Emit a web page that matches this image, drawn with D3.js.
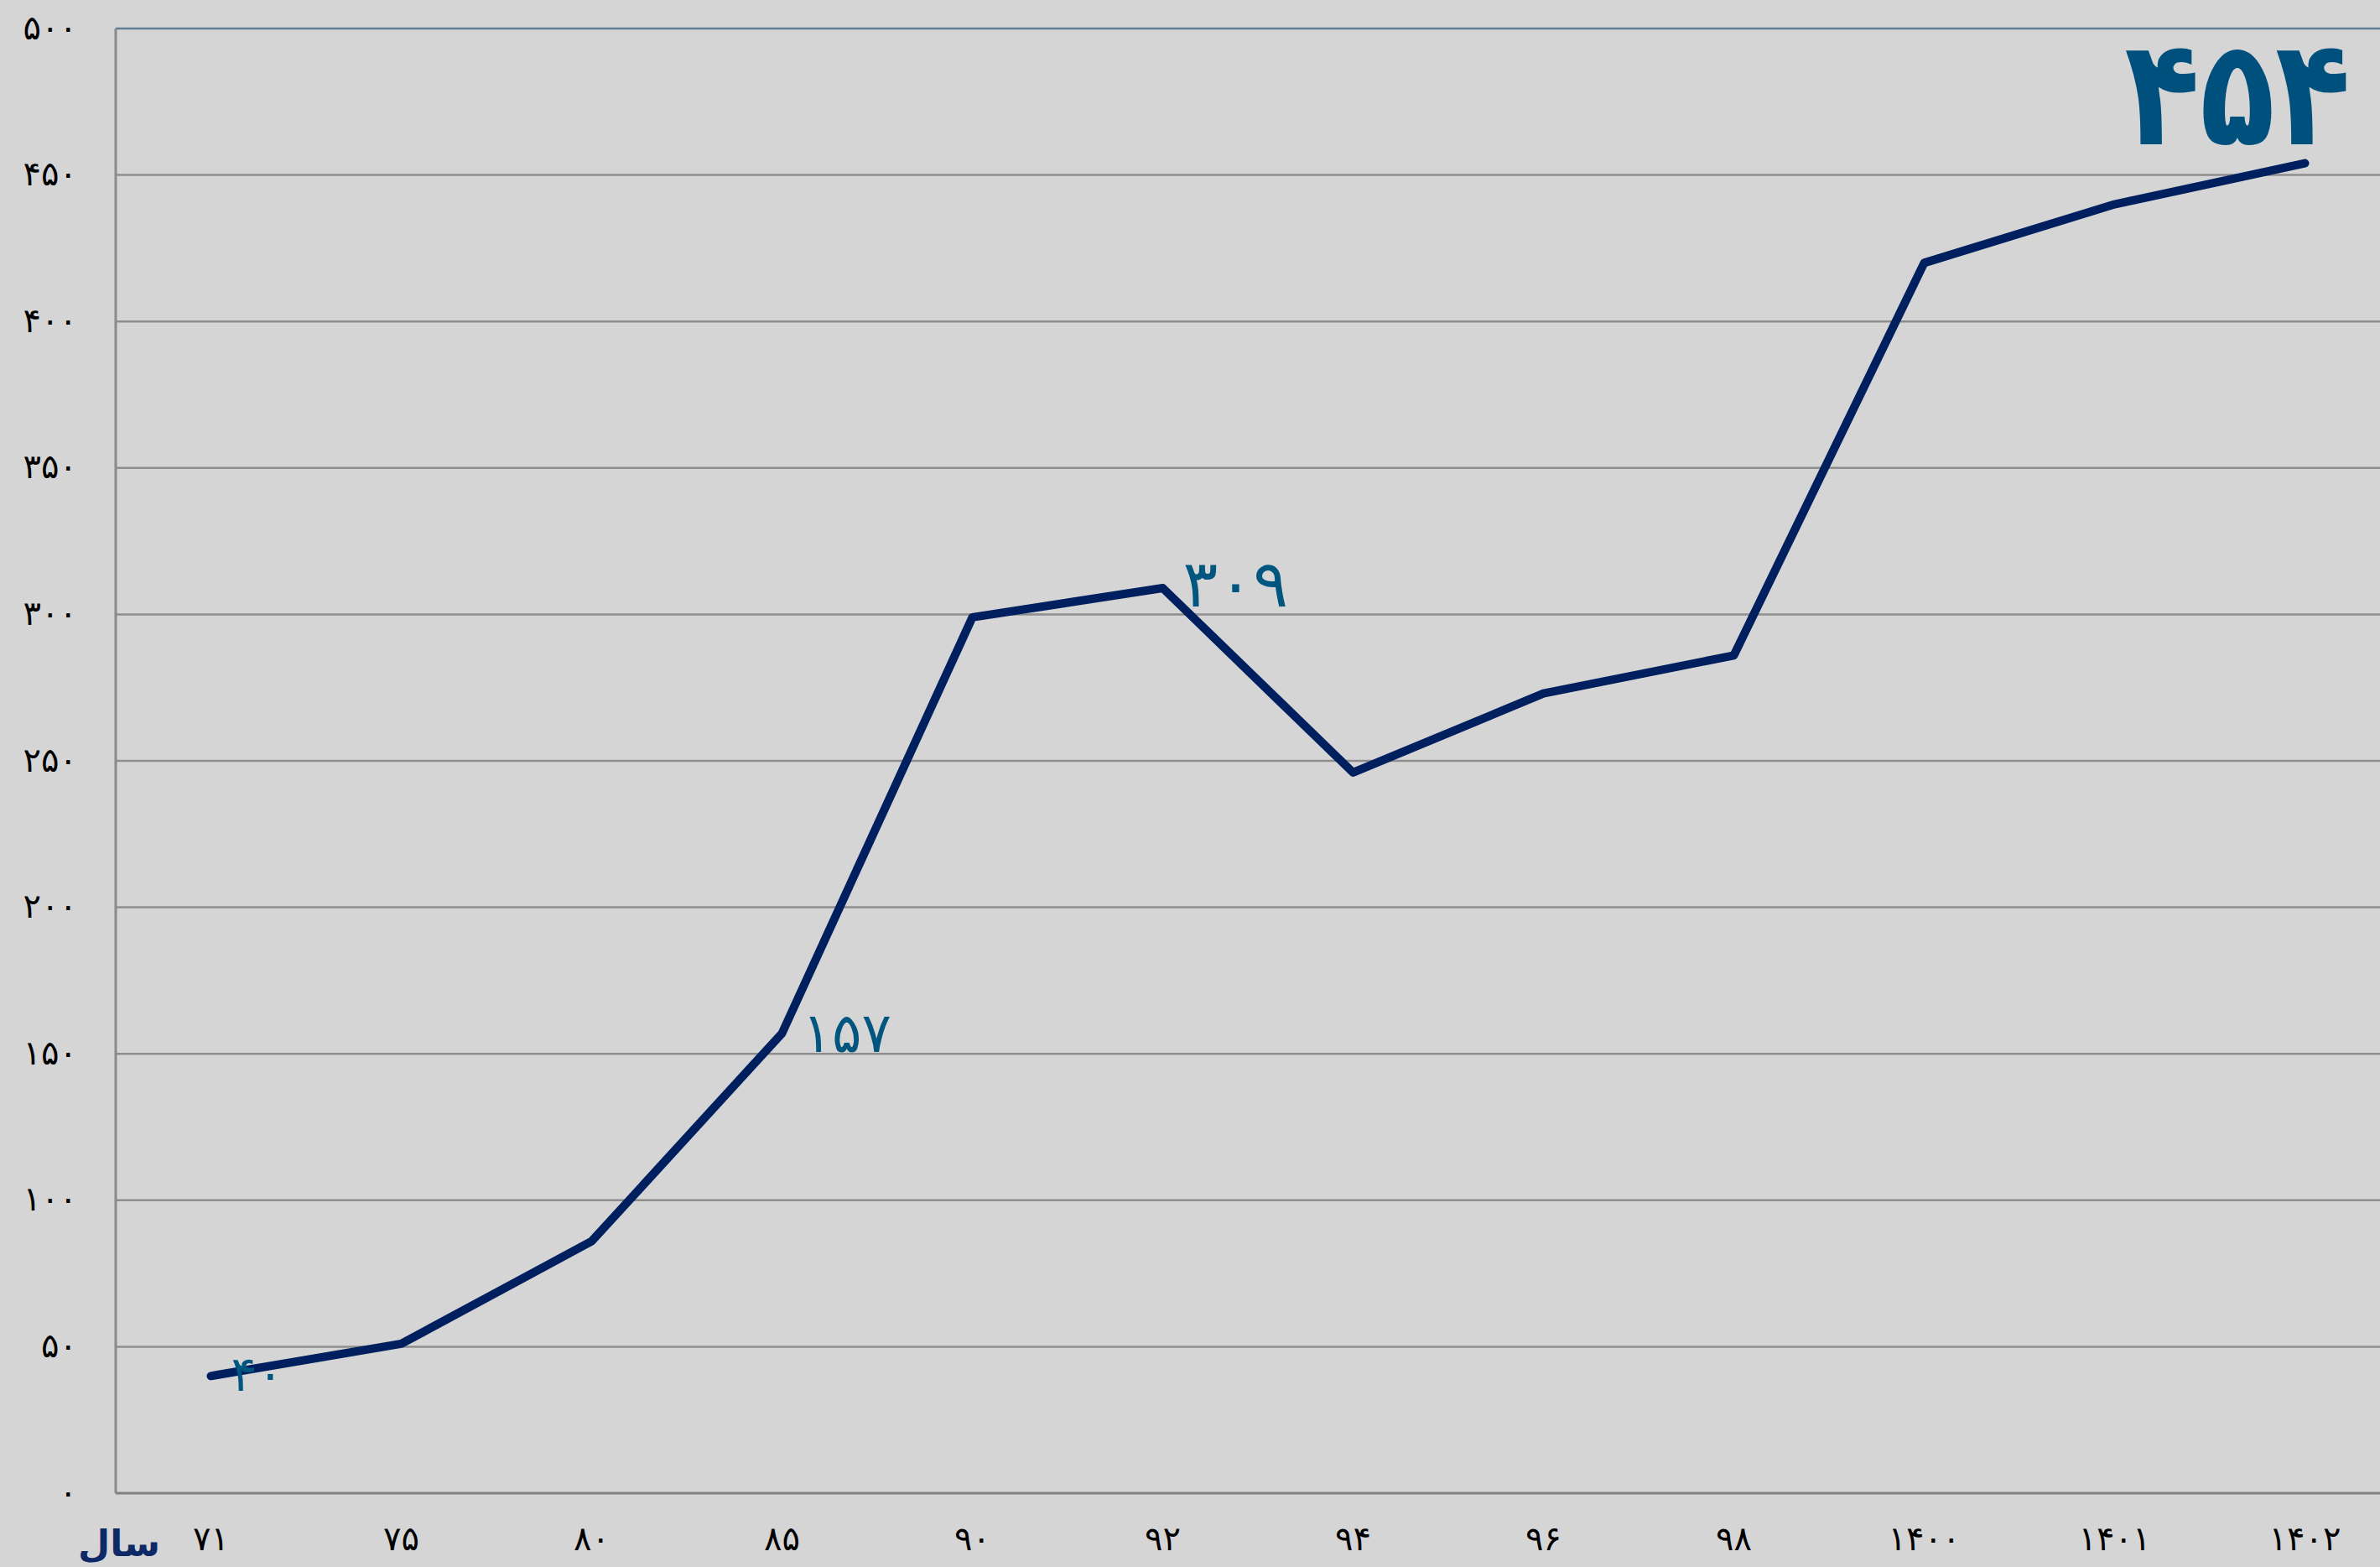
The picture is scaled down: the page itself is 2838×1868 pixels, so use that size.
<!DOCTYPE html>
<html>
<head>
<meta charset="utf-8">
<script src="https://cdn.jsdelivr.net/npm/d3@7"></script>
<style>
  body { margin: 0; background: #d5d5d5; overflow: hidden; }
  svg { display: block; }
</style>
</head>
<body>
<svg id="chart" width="2838" height="1868"></svg>
<script>
const years = ['71', '75', '80', '85', '90', '92', '94', '96', '98', '1400', '1401', '1402']
const values = [40, 51, 86, 157, 299, 309, 246, 273, 286, 420, 440, 454]
const yTicks = [0, 50, 100, 150, 200, 250, 300, 350, 400, 450, 500]

const W = 2838, H = 1868
const padL = 138, padT = 34, baseY = 1780

function fa(s) {
    return String(s).replace(/\d/g, d => '۰۱۲۳۴۵۶۷۸۹'[d])
}

let svg = d3.select('#chart')

svg.append('rect')
    .attr('width', W).attr('height', H)
    .attr('fill', '#d5d5d5')

let xScale = d3.scaleBand()
    .domain(years)
    .range([padL, padL + 227 * years.length])

let yScale = d3.scaleLinear()
    .domain([0, 500])
    .range([baseY, padT])

// grid lines
svg.append('g')
    .selectAll('line')
    .data(yTicks.filter(d => d > 0))
    .join('line')
    .attr('x1', padL).attr('x2', W)
    .attr('y1', d => yScale(d)).attr('y2', d => yScale(d))
    .attr('stroke', d => d == 500 ? '#5f7f97' : '#8e8e8e')
    .attr('stroke-width', 2.5)

// axes lines
svg.append('line')
    .attr('x1', padL).attr('x2', padL)
    .attr('y1', padT).attr('y2', baseY)
    .attr('stroke', '#8a8a8a').attr('stroke-width', 3)
svg.append('line')
    .attr('x1', padL).attr('x2', W)
    .attr('y1', baseY).attr('y2', baseY)
    .attr('stroke', '#808080').attr('stroke-width', 3)

let yAxisGen = d3.axisLeft(yScale)
    .tickValues(yTicks)
    .tickSize(0)
    .tickPadding(46)
    .tickFormat(fa)

let yAxis = svg.append('g')
    .attr('transform', `translate(${padL}, 0)`)
    .call(yAxisGen)
yAxis.select('.domain').remove()
yAxis.selectAll('text')
    .attr('font-family', 'DejaVu Sans')
    .attr('font-size', 40)
    .attr('fill', '#000')
    .attr('letter-spacing', 12)
    .attr('dy', '0.3em')

let xAxisGen = d3.axisBottom(xScale)
    .tickSize(0)
    .tickPadding(28)
    .tickFormat(fa)

let xAxis = svg.append('g')
    .attr('transform', `translate(0, ${baseY})`)
    .call(xAxisGen)
xAxis.select('.domain').remove()
xAxis.selectAll('text')
    .attr('font-family', 'DejaVu Sans')
    .attr('font-size', 40)
    .attr('fill', '#000')
    .attr('letter-spacing', 12)
    .attr('dy', '1.0em')

svg.append('text')
    .attr('x', 142).attr('y', 1855)
    .attr('text-anchor', 'middle')
    .attr('font-family', 'DejaVu Sans')
    .attr('font-weight', 'bold')
    .attr('font-size', 44)
    .attr('fill', '#0d2a66')
    .text('سال')

let line = d3.line()
    .x((d, i) => xScale(years[i]) + xScale.bandwidth() / 2)
    .y(d => yScale(d))

svg.append('path')
    .datum(values)
    .attr('d', line)
    .attr('fill', 'none')
    .attr('stroke', '#001f5f')
    .attr('stroke-width', 10)
    .attr('stroke-linejoin', 'round')
    .attr('stroke-linecap', 'round')

let labels = [
    { year: '71', size: 58, dx: 24, dy: 18 },
    { year: '85', size: 66, dx: 24, dy: 22 },
    { year: '92', size: 78, dx: 24, dy: 22 }
]

svg.append('g')
    .selectAll('text')
    .data(labels)
    .join('text')
    .attr('x', d => xScale(d.year) + xScale.bandwidth() / 2 + d.dx)
    .attr('y', d => yScale(values[years.indexOf(d.year)]) + d.dy)
    .attr('font-family', 'DejaVu Sans')
    .attr('font-size', d => d.size)
    .attr('fill', '#00567f')
    .text(d => fa(values[years.indexOf(d.year)]))

// last value, big
svg.append('text')
    .attr('x', 2668).attr('y', 172)
    .attr('text-anchor', 'middle')
    .attr('font-family', 'DejaVu Sans')
    .attr('font-weight', 'bold')
    .attr('font-size', 160)
    .attr('fill', '#00507e')
    .attr('transform', 'translate(2668,172) scale(0.92,1.1) translate(-2668,-172)')
    .text(fa(values[values.length - 1]))
</script>
</body>
</html>
